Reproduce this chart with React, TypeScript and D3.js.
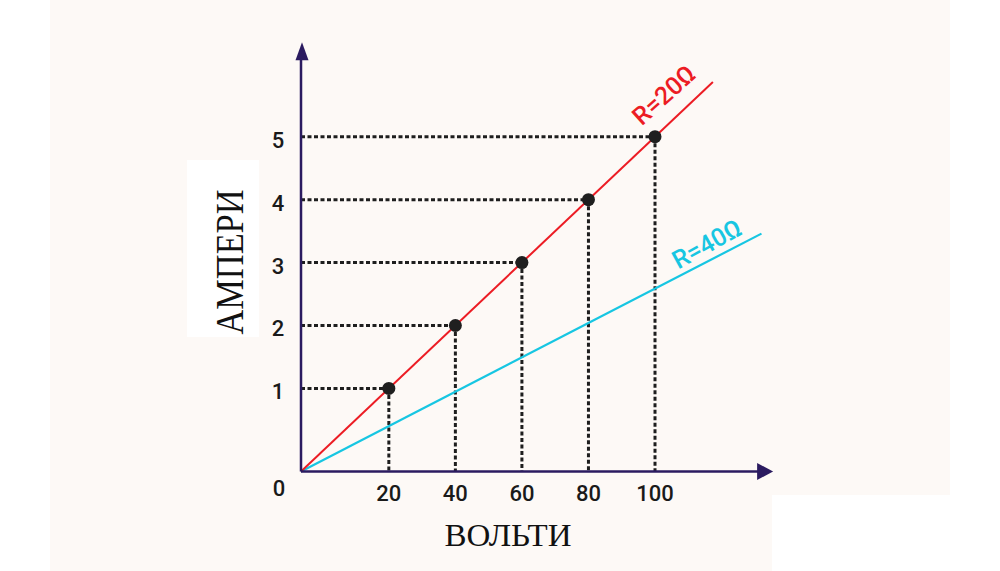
import * as d3 from "d3";
import React from "react";

// measured points on the R=20Ω line
const pointVolts = [20, 40, 60, 80, 100];
const pointAmps = [1, 2, 3, 4, 5];

// tick labels
const voltTicks = [20, 40, 60, 80, 100];
const ampTicks = [1, 2, 3, 4, 5];

// straight lines, [start, end]
const line20Volts = [-6.4, 117.4];
const line20Amps = [-0.32, 5.87];
const line40Volts = [-6.4, 132];
const line40Amps = [-0.32, 3.46];

const width = 1000,
  height = 571;

const axisColor = "#2b1b60";
const red = "#ec1c24";
const cyan = "#17c6e2";

const App: React.FC = () => {
  const x = d3.scaleLinear().domain([-6.4, 100]).range([301, 655]);
  const y = d3.scaleLinear().domain([-0.32, 5]).range([471.5, 136.7]);

  const x0 = x(-6.4);
  const y0 = y(-0.32);
  const xTip = x(135.5);
  const yTip = y(6.5);

  const line = d3
    .line<[number, number]>()
    .x((d) => x(d[0]))
    .y((d) => y(d[1]));

  const zip = (a: number[], b: number[]) =>
    a.map((v, i) => [v, b[i]] as [number, number]);

  return (
    <svg
      width={width}
      height={height}
      style={{ position: "fixed", left: 0, top: 0 }}
      fontFamily="Roboto, 'Noto Sans', sans-serif"
    >
      {/* backgrounds */}
      <rect width={width} height={height} fill="#ffffff" />
      <rect x={50} y={0} width={900} height={height} fill="#fdf9f6" />
      <rect x={772} y={495} width={178} height={76} fill="#ffffff" />
      <rect x={187} y={160} width={72} height={177} fill="#ffffff" />

      {/* dashed guide lines */}
      {pointVolts.map((v, i) => (
        <g key={"g" + v} stroke="#1e1e1e" strokeWidth={3} strokeDasharray="4,2.5">
          <line x1={x0} x2={x(v)} y1={y(pointAmps[i])} y2={y(pointAmps[i])} />
          <line x1={x(v)} x2={x(v)} y1={y(pointAmps[i])} y2={y0} />
        </g>
      ))}

      {/* resistance lines */}
      <path
        d={line(zip(line40Volts, line40Amps)) || ""}
        fill="none"
        stroke={cyan}
        strokeWidth={2.2}
      />
      <path
        d={line(zip(line20Volts, line20Amps)) || ""}
        fill="none"
        stroke={red}
        strokeWidth={2}
      />

      {/* axes */}
      <line x1={x0} x2={xTip - 15} y1={y0} y2={y0} stroke={axisColor} strokeWidth={2.5} />
      <line x1={x0} x2={x0} y1={y0} y2={yTip + 16} stroke={axisColor} strokeWidth={2.5} />
      <path
        d={`M${xTip},${y0} L${xTip - 16},${y0 - 8.5} L${xTip - 16},${y0 + 8.5} Z`}
        fill={axisColor}
      />
      <path
        d={`M${x0 + 1},${yTip} L${x0 - 5.5},${yTip + 18} L${x0 + 7.5},${yTip + 18} Z`}
        fill={axisColor}
      />

      {/* points */}
      {pointVolts.map((v, i) => (
        <circle key={"p" + v} cx={x(v)} cy={y(pointAmps[i])} r={6.5} fill="#1f1f1f" />
      ))}

      {/* tick labels */}
      <g fontSize={22} fontWeight={500} fill="#1a1a1a" textAnchor="middle">
        {voltTicks.map((v) => (
          <text key={"xt" + v} x={x(v)} y={501}>
            {v}
          </text>
        ))}
        {ampTicks.map((a) => (
          <text key={"yt" + a} x={278} y={y(a) + 11}>
            {a}
          </text>
        ))}
        <text x={279} y={496}>
          0
        </text>
      </g>

      {/* line labels */}
      <text
        transform="translate(664,95) rotate(-42)"
        textAnchor="middle"
        dominantBaseline="central"
        fontSize={25}
        fontWeight={500}
        fill={red}
      >
        R=20Ω
      </text>
      <text
        transform="translate(707,244) rotate(-29)"
        textAnchor="middle"
        dominantBaseline="central"
        fontSize={25}
        fontWeight={500}
        fill={cyan}
      >
        R=40Ω
      </text>

      {/* axis titles */}
      <text
        transform="translate(243,262) rotate(-90)"
        textAnchor="middle"
        fontFamily="'Liberation Serif', 'DejaVu Serif', serif"
        fontSize={40}
        textLength={145}
        lengthAdjust="spacingAndGlyphs"
        fill="#111"
      >
        АМПЕРИ
      </text>
      <text
        x={508}
        y={546}
        textAnchor="middle"
        fontFamily="'Liberation Serif', 'DejaVu Serif', serif"
        fontSize={32}
        textLength={127}
        lengthAdjust="spacingAndGlyphs"
        fill="#111"
      >
        ВОЛЬТИ
      </text>
    </svg>
  );
};

export default App;
